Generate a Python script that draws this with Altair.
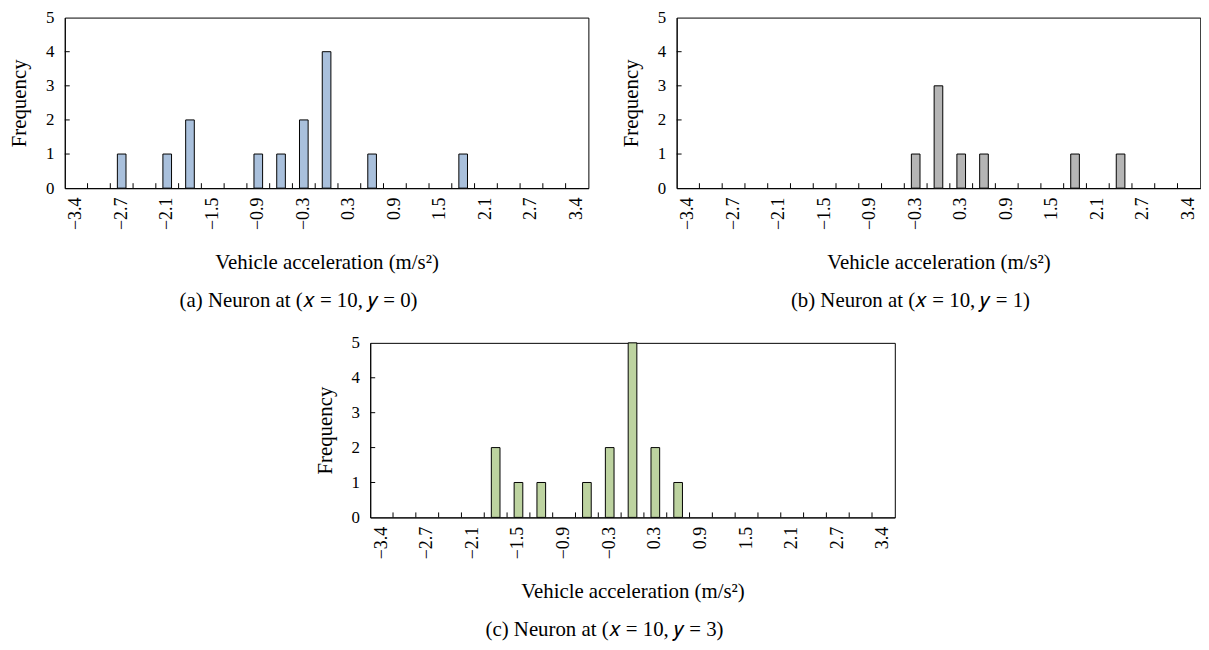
import json
import altair as alt
import pandas as pd

# Histogram bins (bin centres) and visible tick labels
bins = ["−3.4", "−3.0", "−2.7", "−2.4", "−2.1", "−1.8", "−1.5", "−1.2", "−0.9", "−0.6", "−0.3",
        "0.0", "0.3", "0.6", "0.9", "1.2", "1.5", "1.8", "2.1", "2.4", "2.7", "3.0", "3.4"]
shown_labels = ["−3.4", "−2.7", "−2.1", "−1.5", "−0.9", "−0.3", "0.3", "0.9", "1.5", "2.1", "2.7", "3.4"]

# Frequencies per bin for each neuron
freq_a = [0, 0, 1, 0, 1, 2, 0, 0, 1, 1, 2, 4, 0, 1, 0, 0, 0, 1, 0, 0, 0, 0, 0]
freq_b = [0, 0, 0, 0, 0, 0, 0, 0, 0, 0, 1, 3, 1, 1, 0, 0, 0, 1, 0, 1, 0, 0, 0]
freq_c = [0, 0, 0, 0, 0, 2, 1, 1, 0, 1, 2, 5, 2, 1, 0, 0, 0, 0, 0, 0, 0, 0, 0]

y_values = [0, 1, 2, 3, 4, 5]
y_inner_ticks = [1, 2, 3, 4]

captions = ["(a)  Neuron at (𝑥 = 10, 𝑦 = 0)",
            "(b)  Neuron at (𝑥 = 10, 𝑦 = 1)",
            "(c)  Neuron at (𝑥 = 10, 𝑦 = 3)"]
colors = ["#a9c0dc", "#b5b5b5", "#bdd3a0"]

FONT = "Liberation Serif"
x_title = "Vehicle acceleration (m/s²)"
label_expr = "indexof(%s, datum.value) >= 0 ? datum.value : ''" % json.dumps(shown_labels)

x_axis = alt.Axis(title=x_title, labelAngle=-90, labelExpr=label_expr,
                  tickSize=0, labelPadding=9, titlePadding=22,
                  domainColor="black", labelColor="black", titleColor="black",
                  labelFont=FONT, labelFontSize=18, titleFont=FONT,
                  titleFontSize=21, titleFontWeight="normal", grid=False)
y_axis = alt.Axis(title="Frequency", values=y_values, tickSize=0, labelPadding=11,
                  titlePadding=16, domainColor="black", labelColor="black",
                  titleColor="black", labelFont=FONT, labelFontSize=17,
                  titleFont=FONT, titleFontSize=21, titleFontWeight="normal",
                  grid=False)


def panel(freq, color, caption, w, h):
    df = pd.DataFrame({"bin": bins, "freq": freq})
    xs = alt.Scale(domain=bins, paddingInner=0, paddingOuter=0)
    ys = alt.Scale(domain=[0, 5], nice=False)
    bars = alt.Chart(df).transform_filter("datum.freq > 0").mark_bar(
        width=alt.RelativeBandSize(0.38), fill=color, stroke="black", strokeWidth=1
    ).encode(
        x=alt.X("bin:N", scale=xs, sort=bins, axis=x_axis),
        y=alt.Y("freq:Q", scale=ys, axis=y_axis),
    )
    xt = alt.Chart(pd.DataFrame({"bin": bins[1:]})).mark_rule(color="black", strokeWidth=1).encode(
        x=alt.X("bin:N", scale=xs, sort=bins, bandPosition=0, axis=x_axis),
        y=alt.value(h), y2=alt.value(h - 5),
    )
    yt = alt.Chart(pd.DataFrame({"freq": y_inner_ticks})).mark_rule(color="black", strokeWidth=1).encode(
        y=alt.Y("freq:Q", scale=ys, axis=y_axis),
        x=alt.value(0), x2=alt.value(5),
    )
    return alt.layer(bars, xt, yt).properties(
        width=w, height=h,
        title=alt.TitleParams(caption, orient="bottom", anchor="middle", frame="bounds",
                              font=FONT, fontSize=21, fontWeight="normal", color="black",
                              offset=18),
    )


pa = panel(freq_a, colors[0], captions[0], 528, 172)
pb = panel(freq_b, colors[1], captions[1], 528, 172)
pc = panel(freq_c, colors[2], captions[2], 529, 176)

top = alt.hconcat(pa, pb, spacing=31)
chart = alt.vconcat(top, pc, spacing=21, center=True).properties(
    padding={"left": 0, "top": -3, "right": 0, "bottom": 0}
).configure(background="white").configure_view(stroke="black", strokeWidth=1)

chart.save("out.html", embed_options={"renderer": "svg", "actions": False})
